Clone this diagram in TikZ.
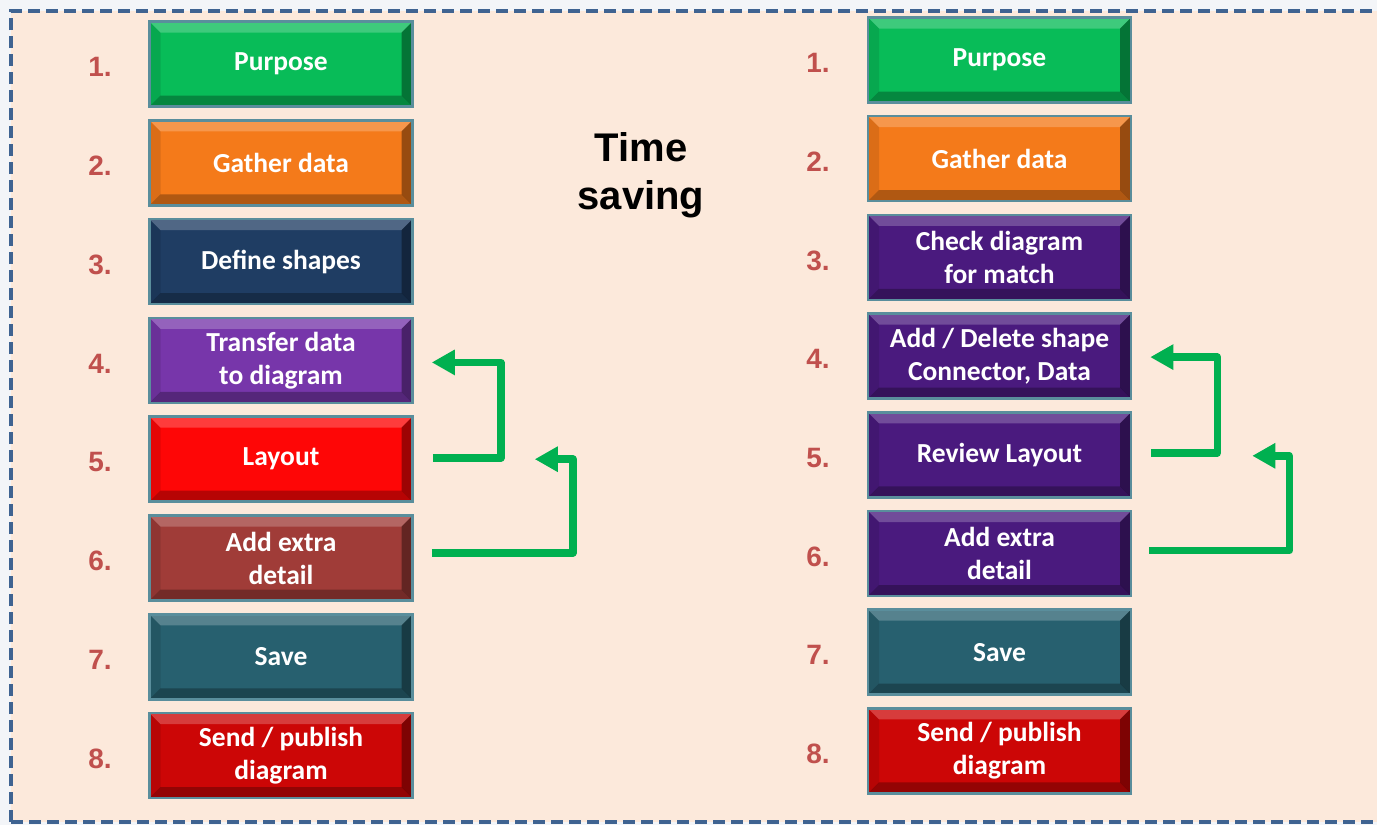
\documentclass[tikz,border=0pt]{standalone}
\usepackage{fontspec}
\newfontfamily\boxfont{Carlito}
\newfontfamily\arialfont{Liberation Sans}
\usetikzlibrary{calc,arrows.meta}
\definecolor{outerbg}{HTML}{F3F5F8}
\definecolor{panel}{HTML}{FCE9DB}
\definecolor{frameblue}{HTML}{3F6391}
\definecolor{numred}{HTML}{C0504D}
\definecolor{arrowgreen}{HTML}{00B050}
\definecolor{cgreen}{HTML}{08BC58}
\definecolor{corange}{HTML}{F47A1A}
\definecolor{cnavy}{HTML}{1F3D63}
\definecolor{cpurple}{HTML}{7736AA}
\definecolor{cred}{HTML}{FE0606}
\definecolor{cbrown}{HTML}{A03C38}
\definecolor{cteal}{HTML}{27606F}
\definecolor{cdarkred}{HTML}{CC0606}
\definecolor{cdeep}{HTML}{4A1A7E}
\definecolor{rimcol}{HTML}{5A8E9C}
\tikzset{
  stepbox/.style={draw=rimcol, line width=2.5pt, fill=#1,
    minimum width=263pt, minimum height=85pt, inner sep=0pt,
    text=white, align=center,
    font=\boxfont\bfseries\fontsize{27.5}{33}\selectfont,
    path picture={
      \coordinate (pnw) at (path picture bounding box.north west);
      \coordinate (pne) at (path picture bounding box.north east);
      \coordinate (psw) at (path picture bounding box.south west);
      \coordinate (pse) at (path picture bounding box.south east);
      \fill[white, opacity=.22] (pnw) -- (pne) -- ($(pne)+(-11,11)$) -- ($(pnw)+(11,11)$) -- cycle;
      \fill[black, opacity=.38] (pne) -- (pse) -- ($(pse)+(-11,-11)$) -- ($(pne)+(-11,11)$) -- cycle;
      \fill[black, opacity=.28] (psw) -- (pse) -- ($(pse)+(-11,-11)$) -- ($(psw)+(11,-11)$) -- cycle;
      \fill[black, opacity=.10] (pnw) -- (psw) -- ($(psw)+(11,-11)$) -- ($(pnw)+(11,11)$) -- cycle;
    }},
  numlabel/.style={text=numred, font=\arialfont\bfseries\fontsize{28}{32}\selectfont},
  loop/.style={draw=arrowgreen, line width=7.5pt, line join=round,
    -{Triangle[length=23pt,width=24pt]}}
}
\begin{document}
\begin{tikzpicture}[x=1pt,y=-1pt]
\useasboundingbox (0,0) rectangle (1377,825);
\fill[outerbg] (0,0) rectangle (1377,825);
\fill[panel] (11,11) rectangle (1390,822);
\draw[frameblue, line width=3.5pt, dash pattern=on 12pt off 6pt] (11,822) -- (11,11) -- (1390,11);
\draw[frameblue, line width=3.5pt, dash pattern=on 12pt off 6pt] (11,822) -- (1390,822);

% left column
\foreach \i/\c/\t in {1/cgreen/Purpose, 2/corange/Gather data, 3/cnavy/Define shapes,
  4/cpurple/{Transfer data\\to diagram}, 5/cred/Layout, 6/cbrown/{Add extra\\detail},
  7/cteal/Save, 8/cdarkred/{Send / publish\\diagram}} {
  \node[stepbox=\c] (L\i) at (281, {64+98.8*(\i-1)}) {\t};
  \node[numlabel] (LN\i) at (100, {67+98.8*(\i-1)}) {\i.};
}
% right column
\foreach \i/\c/\t in {1/cgreen/Purpose, 2/corange/Gather data, 3/cdeep/{Check diagram\\for match},
  4/cdeep/{Add / Delete shape\\Connector, Data}, 5/cdeep/Review Layout, 6/cdeep/{Add extra\\detail},
  7/cteal/Save, 8/cdarkred/{Send / publish\\diagram}} {
  \node[stepbox=\c] (R\i) at (999.5, {60+98.7*(\i-1)}) {\t};
  \node[numlabel] (RN\i) at (818, {63+98.7*(\i-1)}) {\i.};
}

\node[font=\arialfont\bfseries\fontsize{40}{48}\selectfont, align=center] (ts) at (641,175) {Time\\saving};

% left loops
\coordinate (a1s) at ($(L5.east)+(19,-1)$);
\coordinate (a1e) at ($(L4.east)+(18,2)$);
\draw[loop] (a1s) -| ($(a1e)+(69,0)$) -- (a1e);
\coordinate (a2s) at ($(L6.east)+(18,-5)$);
\coordinate (a2e) at ($(L5.east)+(121,0)$);
\draw[loop] (a2s) -| ($(a2e)+(38,0)$) -- (a2e);

% right loops
\coordinate (b1s) at ($(R5.east)+(19,-2)$);
\coordinate (b1e) at ($(R4.east)+(18,1)$);
\draw[loop] (b1s) -| ($(b1e)+(67,0)$) -- (b1e);
\coordinate (b2s) at ($(R6.east)+(17,-3)$);
\coordinate (b2e) at ($(R5.east)+(120,1)$);
\draw[loop] (b2s) -| ($(b2e)+(37,0)$) -- (b2e);
\end{tikzpicture}
\end{document}
